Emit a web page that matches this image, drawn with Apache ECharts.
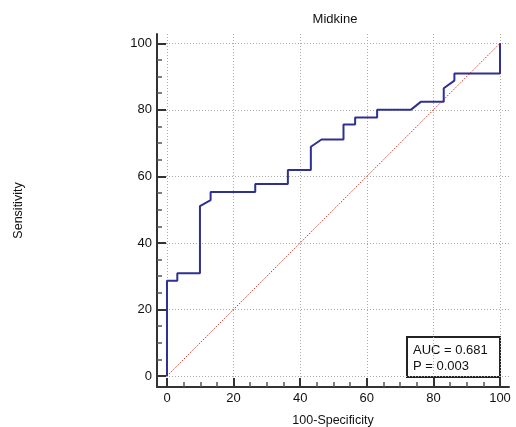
<!DOCTYPE html>
<html>
<head>
<meta charset="utf-8">
<script src="https://cdn.jsdelivr.net/npm/echarts@6/dist/echarts.min.js"></script>
<style>
  html, body { margin: 0; padding: 0; background: #fff; }
</style>
</head>
<body>
<div id="chart" style="width: 516px;height:427px;"></div>
<script>
// ROC curve for Midkine (100-Specificity, Sensitivity)
var rocX = [0, 0, 3.1, 3.1, 9.9, 9.9, 13.1, 13.1, 26.5, 26.5, 36.3, 36.3, 43.2, 43.2, 46.4,
            53.0, 53.0, 56.5, 56.5, 63.1, 63.1, 73.2, 76.2, 83.1, 83.1, 86.3, 86.3, 100, 100];
var rocY = [0, 28.6, 28.6, 30.9, 30.9, 51.1, 52.9, 55.3, 55.3, 57.7, 57.7, 61.9, 61.9, 68.9, 71.1,
            71.1, 75.6, 75.6, 77.7, 77.7, 80.0, 80.0, 82.4, 82.4, 86.5, 88.8, 90.9, 90.9, 100];
var diagX = [0, 100];
var diagY = [0, 100];
var majorTicks = [0, 20, 40, 60, 80, 100];
var minorTicks = [5, 10, 15, 25, 30, 35, 45, 50, 55, 65, 70, 75, 85, 90, 95];
var statLines = ['AUC = 0.681', 'P = 0.003'];

var FONT = '"Liberation Sans", Arial, sans-serif';
var myChart = echarts.init(document.getElementById('chart'));

function pairs(xs, ys) {
  return xs.map(function (x, i) { return [x, ys[i]]; });
}

// main axis: line, major ticks, labels, dotted grid
function mainAxis(dim, min, max, name, nameGap) {
  return {
    type: 'value',
    min: min,
    max: max,
    position: dim === 'x' ? 'bottom' : 'left',
    name: name,
    nameLocation: 'middle',
    nameGap: nameGap,
    nameTextStyle: { fontFamily: FONT, fontSize: 12.5, color: '#111' },
    axisLine: { show: true, onZero: false, lineStyle: { color: '#333', width: 2 } },
    axisTick: { show: true, inside: true, length: 9, customValues: majorTicks, lineStyle: { color: '#333', width: 2 } },
    axisLabel: { customValues: majorTicks, margin: 5, fontFamily: FONT, fontSize: 13, color: '#111' },
    splitLine: { show: true, lineStyle: { color: '#aaa', type: [1, 2], width: 1 } }
  };
}
// minor ticks only
function minorAxis(dim, min, max) {
  return {
    type: 'value',
    min: min,
    max: max,
    position: dim === 'x' ? 'bottom' : 'left',
    axisLine: { show: false, onZero: false },
    axisTick: { show: true, inside: true, length: 5, customValues: minorTicks, lineStyle: { color: '#555', width: 1.5 } },
    axisLabel: { show: false },
    splitLine: { show: false }
  };
}

var option = {
  animation: false,
  grid: { left: 157, right: 7, top: 34, bottom: 40, outerBoundsMode: 'none' },
  xAxis: [mainAxis('x', -3, 102.7, '100-Specificity', 27), minorAxis('x', -3, 102.7)],
  yAxis: [mainAxis('y', -3.3, 102.8, 'Sensitivity', 132), minorAxis('y', -3.3, 102.8)],
  series: [
    {
      name: 'reference',
      type: 'line',
      data: pairs(diagX, diagY),
      symbol: 'none',
      lineStyle: { color: '#c0392b', width: 1, type: [1.5, 1.5] }
    },
    {
      name: 'Midkine',
      type: 'line',
      data: pairs(rocX, rocY),
      symbol: 'none',
      lineStyle: { color: '#2e3192', width: 2 }
    }
  ],
  graphic: [
    {
      type: 'text', x: 335, y: 13,
      style: { text: 'Midkine', fontFamily: FONT, fontSize: 13, fill: '#111', align: 'center', verticalAlign: 'top' }
    },
    {
      type: 'group', left: 406, top: 336,
      children: [
        { type: 'rect', shape: { x: 0, y: 0, width: 93, height: 40 }, style: { fill: '#fff', stroke: '#222', lineWidth: 2 } },
        { type: 'text', x: 6, y: 5, style: { text: statLines.join('\n'), fontFamily: FONT, fontSize: 13, lineHeight: 16, fill: '#111' } }
      ]
    }
  ]
};
myChart.setOption(option);
</script>
</body>
</html>
